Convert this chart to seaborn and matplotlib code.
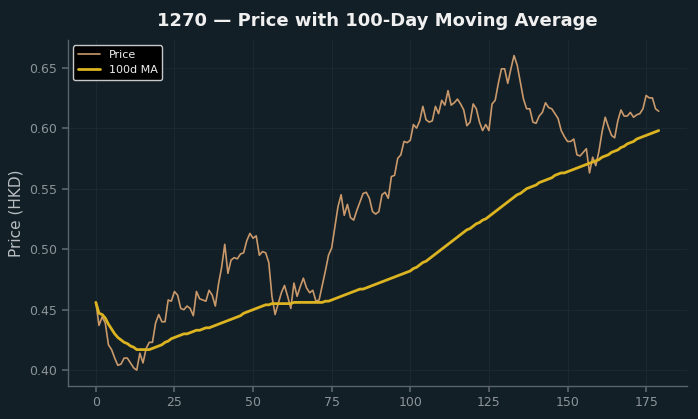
import numpy as np
import pandas as pd
import matplotlib
matplotlib.use("Agg")
import matplotlib.pyplot as plt
import seaborn as sns

title = "1270 — Price with 100-Day Moving Average"
ylabel = "Price (HKD)"
series_names = ["Price", "100d MA"]

price = [
    0.456, 0.437, 0.444, 0.439, 0.421, 0.417, 0.410, 0.404, 0.405, 0.410,
    0.410, 0.406, 0.402, 0.400, 0.414, 0.406, 0.418, 0.423, 0.423, 0.439,
    0.446, 0.440, 0.440, 0.458, 0.457, 0.465, 0.462, 0.451, 0.450, 0.453,
    0.451, 0.445, 0.465, 0.459, 0.458, 0.457, 0.466, 0.462, 0.453, 0.471,
    0.485, 0.504, 0.480, 0.491, 0.493, 0.492, 0.496, 0.497, 0.507, 0.513,
    0.509, 0.511, 0.495, 0.498, 0.497, 0.489, 0.461, 0.446, 0.455, 0.464,
    0.470, 0.461, 0.451, 0.472, 0.461, 0.469, 0.476, 0.468, 0.464, 0.466,
    0.457, 0.458, 0.470, 0.482, 0.495, 0.501, 0.518, 0.535, 0.545, 0.528,
    0.537, 0.526, 0.524, 0.532, 0.539, 0.546, 0.547, 0.542, 0.531, 0.529,
    0.531, 0.545, 0.547, 0.542, 0.560, 0.561, 0.575, 0.578, 0.589, 0.588,
    0.590, 0.603, 0.600, 0.606, 0.618, 0.607, 0.605, 0.606, 0.618, 0.612,
    0.623, 0.619, 0.631, 0.619, 0.621, 0.624, 0.620, 0.615, 0.602, 0.605,
    0.620, 0.616, 0.605, 0.598, 0.603, 0.598, 0.620, 0.623, 0.637, 0.649,
    0.649, 0.637, 0.649, 0.660, 0.652, 0.638, 0.624, 0.616, 0.616, 0.605,
    0.604, 0.610, 0.613, 0.621, 0.617, 0.616, 0.612, 0.608, 0.598, 0.593,
    0.589, 0.589, 0.591, 0.578, 0.577, 0.580, 0.583, 0.563, 0.576, 0.569,
    0.581, 0.597, 0.609, 0.601, 0.594, 0.592, 0.606, 0.615, 0.610, 0.610,
    0.613, 0.609, 0.611, 0.612, 0.616, 0.627, 0.625, 0.625, 0.616, 0.614,
]

ma100 = [
    0.456, 0.447, 0.446, 0.443, 0.438, 0.434, 0.430, 0.427, 0.425, 0.423,
    0.422, 0.420, 0.419, 0.417, 0.417, 0.417, 0.417, 0.417, 0.418, 0.419,
    0.420, 0.421, 0.423, 0.424, 0.426, 0.427, 0.428, 0.429, 0.430, 0.430,
    0.431, 0.432, 0.433, 0.433, 0.434, 0.435, 0.435, 0.436, 0.437, 0.438,
    0.439, 0.440, 0.441, 0.442, 0.443, 0.444, 0.445, 0.447, 0.448, 0.449,
    0.450, 0.451, 0.452, 0.453, 0.454, 0.454, 0.455, 0.455, 0.455, 0.455,
    0.455, 0.455, 0.455, 0.456, 0.456, 0.456, 0.456, 0.456, 0.456, 0.456,
    0.456, 0.456, 0.456, 0.457, 0.457, 0.458, 0.459, 0.460, 0.461, 0.462,
    0.463, 0.464, 0.465, 0.466, 0.467, 0.467, 0.468, 0.469, 0.470, 0.471,
    0.472, 0.473, 0.474, 0.475, 0.476, 0.477, 0.478, 0.479, 0.480, 0.481,
    0.482, 0.484, 0.485, 0.487, 0.489, 0.490, 0.492, 0.494, 0.496, 0.498,
    0.500, 0.502, 0.504, 0.506, 0.508, 0.510, 0.512, 0.514, 0.516, 0.517,
    0.519, 0.521, 0.522, 0.524, 0.525, 0.527, 0.529, 0.531, 0.533, 0.535,
    0.537, 0.539, 0.541, 0.543, 0.545, 0.546, 0.548, 0.550, 0.551, 0.552,
    0.553, 0.555, 0.556, 0.557, 0.558, 0.559, 0.561, 0.562, 0.563, 0.563,
    0.564, 0.565, 0.566, 0.567, 0.568, 0.569, 0.570, 0.571, 0.572, 0.573,
    0.574, 0.576, 0.577, 0.578, 0.580, 0.581, 0.582, 0.584, 0.585, 0.587,
    0.588, 0.589, 0.591, 0.592, 0.593, 0.594, 0.595, 0.596, 0.597, 0.598,
]

day = list(range(len(price)))

BG = "#121f26"
PRICE_C = "#c9996b"
MA_C = "#dcb421"
TICK_C = "#8c9499"
SPINE_C = "#5a6369"

sns.set_theme(style="dark")
plt.rcParams["font.family"] = ["DejaVu Sans"]

fig, ax = plt.subplots(figsize=(6.98, 4.19), dpi=100)
fig.patch.set_facecolor(BG)
ax.set_facecolor(BG)

df = pd.DataFrame({"day": day, "price": price, "ma": ma100})
sns.lineplot(data=df, x="day", y="price", ax=ax, color=PRICE_C, linewidth=1.2,
             label=series_names[0])
sns.lineplot(data=df, x="day", y="ma", ax=ax, color=MA_C, linewidth=2.0,
             label=series_names[1])

ax.set_title(title, color="#f0f0f0", fontsize=13, fontweight="bold", pad=10)
ax.set_xlabel("")
ax.set_ylabel(ylabel, color="#b8bec2", fontsize=11)
ax.tick_params(colors=TICK_C, labelsize=9, length=4, color=SPINE_C, left=True, bottom=True)
ax.grid(True, color="#22313a", linewidth=0.6, alpha=0.6)
for side in ["top", "right"]:
    ax.spines[side].set_visible(False)
for side in ["left", "bottom"]:
    ax.spines[side].set_visible(True)
    ax.spines[side].set_color(SPINE_C)
    ax.spines[side].set_linewidth(1.0)

leg = ax.legend(loc="upper left", facecolor="#000000", edgecolor="#c8c8c8",
                fontsize=8, framealpha=1.0)
for t in leg.get_texts():
    t.set_color("#eeeeee")

fig.subplots_adjust(left=0.097, right=0.984, top=0.905, bottom=0.079)
fig.savefig("out.png", dpi=100, facecolor=BG)
